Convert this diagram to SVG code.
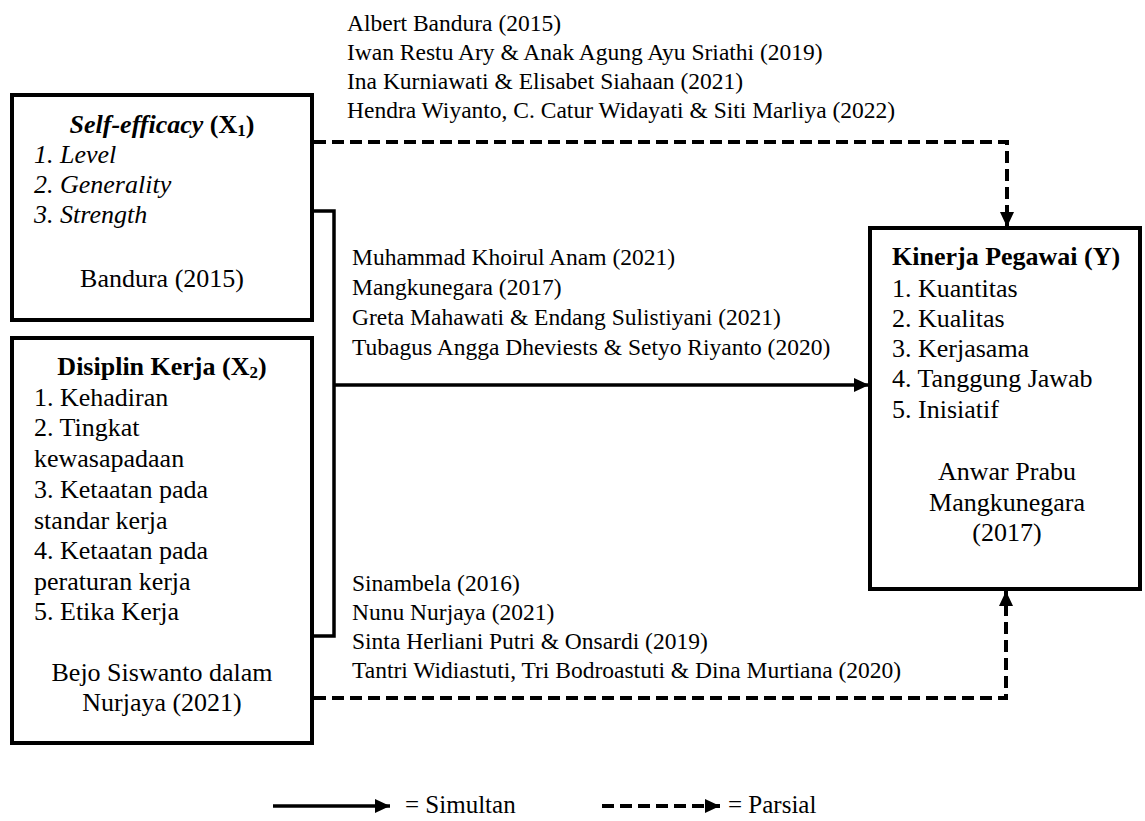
<svg xmlns="http://www.w3.org/2000/svg" width="1145" height="821" viewBox="0 0 1145 821">
<style>
text{font-family:"Liberation Serif","Times New Roman",serif;fill:#000}
.ref{font-size:23.5px}
.bx{font-size:26px}
.lg{font-size:25px}
.b{font-weight:bold}
.i{font-style:italic}
.c{text-anchor:middle}
.box{fill:#fff;stroke:#000;stroke-width:4}
.solid{fill:none;stroke:#000;stroke-width:3.5}
.dash{fill:none;stroke:#000;stroke-width:4;stroke-dasharray:12 6}
</style>
<defs>
<marker id="ah" markerUnits="userSpaceOnUse" markerWidth="16" markerHeight="16" viewBox="0 0 16 16" refX="15" refY="8" orient="auto">
<path d="M0,1 L15,8 L0,15 Z" fill="#000"/>
</marker>
</defs>
<rect width="1145" height="821" fill="#fff"/>

<g id="connectors">
<path class="solid" d="M312,211 H334 V636 H312"/>
<path class="solid" d="M334,385 H869" marker-end="url(#ah)"/>
<path class="dash" d="M314,142 H1007 V227" marker-end="url(#ah)"/>
<path class="dash" d="M314,698 H1006 V591" marker-end="url(#ah)"/>
</g>

<g id="refs-top" class="ref">
<text x="347" y="31">Albert Bandura (2015)</text>
<text x="347" y="60">Iwan Restu Ary &amp; Anak Agung Ayu Sriathi (2019)</text>
<text x="347" y="89">Ina Kurniawati &amp; Elisabet Siahaan (2021)</text>
<text x="347" y="118">Hendra Wiyanto, C. Catur Widayati &amp; Siti Marliya (2022)</text>
</g>
<g id="refs-mid" class="ref">
<text x="352" y="265">Muhammad Khoirul Anam (2021)</text>
<text x="352" y="295">Mangkunegara (2017)</text>
<text x="352" y="325">Greta Mahawati &amp; Endang Sulistiyani (2021)</text>
<text x="352" y="355">Tubagus Angga Dheviests &amp; Setyo Riyanto (2020)</text>
</g>
<g id="refs-bottom" class="ref">
<text x="352" y="591">Sinambela (2016)</text>
<text x="352" y="620">Nunu Nurjaya (2021)</text>
<text x="352" y="649">Sinta Herliani Putri &amp; Onsardi (2019)</text>
<text x="352" y="678">Tantri Widiastuti, Tri Bodroastuti &amp; Dina Murtiana (2020)</text>
</g>

<g id="node-x1">
<rect class="box" x="12" y="95" width="300" height="225"/>
<text class="bx b c" x="162" y="133"><tspan class="i">Self-efficacy</tspan> (X<tspan font-size="17" dy="3">1</tspan><tspan dy="-3">)</tspan></text>
<text class="bx i" x="34" y="163">1. Level</text>
<text class="bx i" x="34" y="193">2. Generality</text>
<text class="bx i" x="34" y="223">3. Strength</text>
<text class="bx c" x="162" y="287">Bandura (2015)</text>
</g>

<g id="node-x2">
<rect class="box" x="12" y="338" width="300" height="405"/>
<text class="bx b c" x="162" y="375">Disiplin Kerja (X<tspan font-size="17" dy="3">2</tspan><tspan dy="-3">)</tspan></text>
<text class="bx" x="34" y="406">1. Kehadiran</text>
<text class="bx" x="34" y="436">2. Tingkat</text>
<text class="bx" x="34" y="467">kewasapadaan</text>
<text class="bx" x="34" y="498">3. Ketaatan pada</text>
<text class="bx" x="34" y="529">standar kerja</text>
<text class="bx" x="34" y="559">4. Ketaatan pada</text>
<text class="bx" x="34" y="590">peraturan kerja</text>
<text class="bx" x="34" y="620">5. Etika Kerja</text>
<text class="bx c" x="162" y="681">Bejo Siswanto dalam</text>
<text class="bx c" x="162" y="711">Nurjaya (2021)</text>
</g>

<g id="node-y">
<rect class="box" x="870" y="228" width="270" height="361"/>
<text class="bx b" x="892" y="265">Kinerja Pegawai (Y)</text>
<text class="bx" x="892" y="297">1. Kuantitas</text>
<text class="bx" x="892" y="327">2. Kualitas</text>
<text class="bx" x="892" y="357">3. Kerjasama</text>
<text class="bx" x="892" y="387">4. Tanggung Jawab</text>
<text class="bx" x="892" y="418">5. Inisiatif</text>
<text class="bx c" x="1007" y="480">Anwar Prabu</text>
<text class="bx c" x="1007" y="511">Mangkunegara</text>
<text class="bx c" x="1007" y="541">(2017)</text>
</g>

<g id="legend">
<path class="solid" d="M273,806 H390" marker-end="url(#ah)"/>
<text class="lg" x="405" y="813">= Simultan</text>
<path class="dash" d="M602,806 H720" marker-end="url(#ah)"/>
<text class="lg" x="728" y="813">= Parsial</text>
</g>
</svg>
